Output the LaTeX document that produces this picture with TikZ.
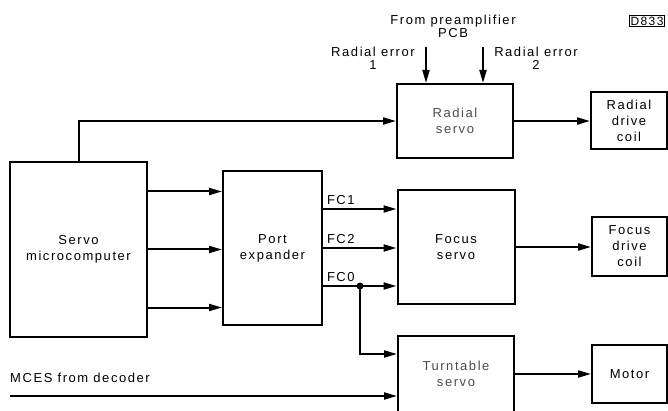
\documentclass[tikz,border=0pt]{standalone}
\usepackage{fontspec}
\setmainfont{Liberation Sans}[LetterSpace=12]
\usetikzlibrary{arrows.meta,positioning,calc}

\begin{document}
\begin{tikzpicture}[x=1pt,y=1pt,
box/.style={
draw,
line width=2pt,
fill=white,
align=center,
inner sep=0pt,
font=\fontsize{13}{16}\selectfont
},
sig/.style={
align=center,
inner sep=0pt,
font=\fontsize{13}{13}\selectfont
},
arrow/.style={
-{Triangle[length=13pt,width=7pt]},
line width=2pt
}
]

\useasboundingbox (0,0) rectangle (668,-411);

\node[box, minimum width=137pt, minimum height=175pt] (micro) at (78.5,-249.5)
{Servo\\microcomputer};

\node[box, minimum width=99pt, minimum height=154pt] (port) at (272.5,-248)
{Port\\expander};

\node[box, text=black!70, minimum width=116pt, minimum height=74pt] (radial) at (455,-121)
{Radial\\servo};

\node[box, minimum width=117pt, minimum height=114pt] (focus) at (456,-247)
{Focus\\servo};

\node[box, text=black!70, minimum width=116pt, minimum height=76pt] (turntable) at (456,-374)
{Turntable\\servo};

\node[box, minimum width=76pt, minimum height=57pt] (rcoil) at (629,-120.5)
{Radial\\drive\\coil};

\node[box, minimum width=75pt, minimum height=59pt] (fcoil) at (629.5,-246.5)
{Focus\\drive\\coil};

\node[box, minimum width=75pt, minimum height=58pt] (motor) at (629.5,-374)
{Motor};

\node[sig] (pcb) at (453,-26) {From preamplifier\\PCB};
\node[sig] (err1) at (373,-58) {Radial error\\1};
\node[sig] (err2) at (536,-58) {Radial error\\2};
\node[draw, line width=1pt, inner sep=1pt, font=\fontsize{12}{12}\selectfont] (fig) at (647,-21) {D833};
\node[sig, anchor=west] (mces) at (10,-378) {MCES from decoder};

\coordinate (in1) at (426,-47);
\coordinate (in2) at (483,-47);
\coordinate (src) at (10,-396);

\draw[arrow] (in1) -- (in1 |- radial.north);
\draw[arrow] (in2) -- (in2 |- radial.north);

\draw[arrow] (micro.north) |- (radial.west);
\foreach \dy in {58,0,-58}
\draw[arrow] ([yshift=\dy pt]micro.east) -- ([yshift=\dy pt]micro.east -| port.west);

\draw[arrow] ([yshift=39pt]port.east) -- ([yshift=39pt]port.east -| focus.west)
node[sig, pos=0, anchor=south west, xshift=3pt, yshift=3pt] {FC1};
\draw[arrow] (port.east) -- (port.east -| focus.west)
node[sig, pos=0, anchor=south west, xshift=3pt, yshift=3pt] {FC2};
\draw[arrow] ([yshift=-38pt]port.east) -- ([yshift=-38pt]port.east -| focus.west)
node[sig, pos=0, anchor=south west, xshift=3pt, yshift=3pt] {FC0};

\path ([yshift=-38pt]port.east) ++(37,0) coordinate (split);
\draw[arrow] (split) |- ([yshift=20pt]turntable.west);
\fill (split) circle (3.5pt);

\draw[arrow] (src) -- (src -| turntable.west);

\draw[arrow] (radial.east) -- (radial.east -| rcoil.west);
\draw[arrow] (focus.east) -- (focus.east -| fcoil.west);
\draw[arrow] (turntable.east) -- (turntable.east -| motor.west);

\end{tikzpicture}
\end{document}
